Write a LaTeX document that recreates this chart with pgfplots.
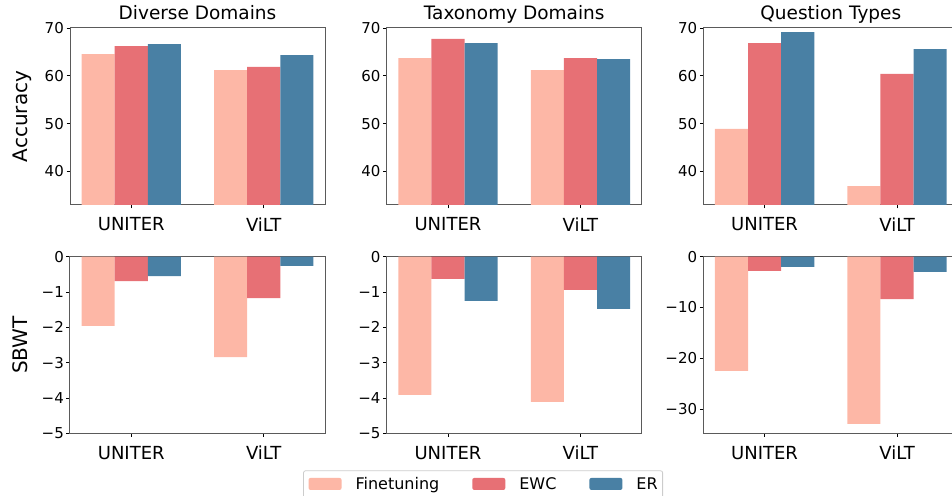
\documentclass[border=0pt]{standalone}
\usepackage{pgfplots}
\pgfplotsset{compat=1.18}
\usepackage{fontspec}
\setmainfont{DejaVu Sans}
\definecolor{cft}{RGB}{253,183,166}
\definecolor{cewc}{RGB}{231,112,117}
\definecolor{cer}{RGB}{73,128,164}
\definecolor{spine}{RGB}{90,90,90}
\pgfplotsset{
  base/.style={
    scale only axis, width=255pt,
    axis line style={spine, line width=1pt},
    tick align=outside, tick pos=left,
    major tick length=3.5pt,
    tick style={black, line width=0.8pt},
    xmin=-0.4625, xmax=1.4625,
    xtick={0,1}, xticklabels={UNITER,ViLT},
    xticklabel style={font=\fontsize{18}{18}\selectfont, anchor=north, inner sep=0pt, yshift=-9pt},
    yticklabel style={font=\fontsize{15}{15}\selectfont, anchor=east, inner sep=0pt, xshift=-2.5pt},
    title style={font=\fontsize{18.5}{18.5}\selectfont, at={(0.5,1)}, anchor=base, inner sep=0pt, yshift=2pt},
    ylabel style={font=\fontsize{20}{20}\selectfont, at={(axis description cs:-0.165,0.5)}, anchor=base, inner sep=0pt},
  },
  top/.style={base, height=177pt, ymin=33, ymax=70, ytick={40,50,60,70}, yticklabels={40,50,60,70}},
  bot/.style={base, height=176.6pt, ymin=-5, ymax=0, ytick={-5,-4,-3,-2,-1,0}, yticklabels={−5,−4,−3,−2,−1,0}},
  ft/.style={ybar, bar width=0.25, bar shift=-0.25, fill=cft, draw=none,
    legend image code/.code={\fill[cft] (0pt,0pt) rectangle (33pt,12pt);}},
  ewc/.style={ybar, bar width=0.25, bar shift=0, fill=cewc, draw=none,
    legend image code/.code={\fill[cewc] (0pt,0pt) rectangle (33pt,12pt);}},
  er/.style={ybar, bar width=0.25, bar shift=0.25, fill=cer, draw=none,
    legend image code/.code={\fill[cer] (0pt,0pt) rectangle (33pt,12pt);}},
}
\begin{document}
\begin{tikzpicture}
% ---- top row: Accuracy
\begin{axis}[top, at={(70pt,290pt)}, anchor=south west, title={Diverse Domains}, ylabel={Accuracy}]
\addplot[ft] coordinates {(0,64.55) (1,61.2)};
\addplot[ewc] coordinates {(0,66.2) (1,61.85)};
\addplot[er] coordinates {(0,66.65) (1,64.35)};
\end{axis}
\begin{axis}[top, at={(386.7pt,290pt)}, anchor=south west, title={Taxonomy Domains}]
\addplot[ft] coordinates {(0,63.7) (1,61.2)};
\addplot[ewc] coordinates {(0,67.7) (1,63.7)};
\addplot[er] coordinates {(0,66.85) (1,63.5)};
\end{axis}
\begin{axis}[top, at={(703.3pt,290pt)}, anchor=south west, title={Question Types}]
\addplot[ft] coordinates {(0,48.9) (1,36.95)};
\addplot[ewc] coordinates {(0,66.85) (1,60.4)};
\addplot[er] coordinates {(0,69.15) (1,65.6)};
\end{axis}
% ---- bottom row: SBWT
\begin{axis}[bot, at={(70pt,61.7pt)}, anchor=south west, ylabel={SBWT}]
\addplot[ft] coordinates {(0,-1.96) (1,-2.84)};
\addplot[ewc] coordinates {(0,-0.69) (1,-1.17)};
\addplot[er] coordinates {(0,-0.55) (1,-0.26)};
\end{axis}
\begin{axis}[bot, at={(386.7pt,61.7pt)}, anchor=south west,
  legend columns=3,
  legend style={at={(0.378,-0.21)}, anchor=north, draw=black!20, rounded corners=2pt, line width=0.8pt,
    font=\fontsize{16}{16}\selectfont, inner xsep=5pt, inner ysep=7pt,
    nodes={inner sep=0pt, anchor=base west},
    /tikz/every odd column/.append style={column sep=14pt},
    /tikz/every even column/.append style={column sep=33pt}}]
\addplot[ft] coordinates {(0,-3.91) (1,-4.11)};
\addlegendentry{Finetuning}
\addplot[ewc] coordinates {(0,-0.63) (1,-0.94)};
\addlegendentry{EWC}
\addplot[er] coordinates {(0,-1.25) (1,-1.48)};
\addlegendentry{ER}
\end{axis}
\begin{axis}[base, height=176.6pt, at={(703.3pt,61.7pt)}, anchor=south west,
  ymin=-34.8, ymax=0, ytick={-30,-20,-10,0}, yticklabels={−30,−20,−10,0}]
\addplot[ft] coordinates {(0,-22.5) (1,-32.95)};
\addplot[ewc] coordinates {(0,-2.8) (1,-8.35)};
\addplot[er] coordinates {(0,-2.0) (1,-3.0)};
\end{axis}
\pgfresetboundingbox
\useasboundingbox (0pt,0pt) rectangle (952pt,495pt);
\end{tikzpicture}
\end{document}
